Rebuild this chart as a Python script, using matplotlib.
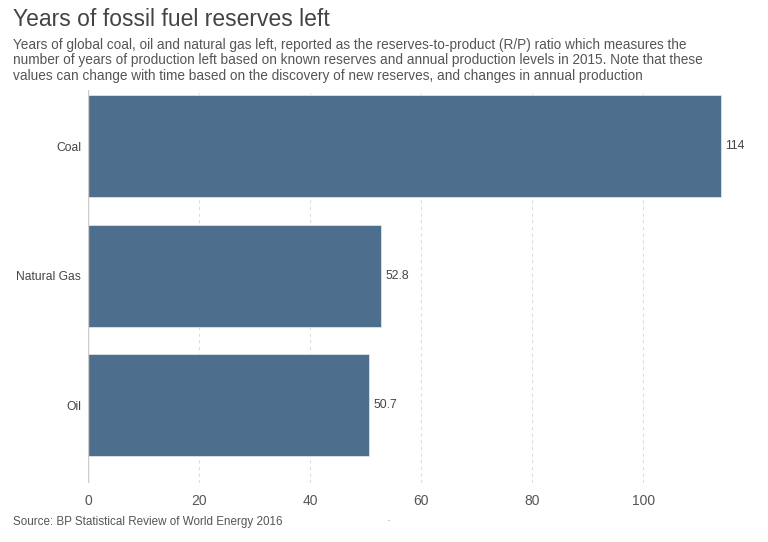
import matplotlib.pyplot as plt

fuels = ['Coal', 'Natural Gas', 'Oil']
years_left = [114, 52.8, 50.7]
value_labels = ['114', '52.8', '50.7']
xticks = [0, 20, 40, 60, 80, 100]

plt.rcParams['font.family'] = ['Liberation Sans', 'DejaVu Sans']

fig = plt.figure(figsize=(7.68, 5.42), dpi=100)
ax = fig.add_axes([88 / 768, 1 - 483 / 542, (722 - 88) / 768, (483 - 90) / 542])

pos = list(range(len(fuels)))
bars = ax.barh(pos, years_left, height=0.79, color='#4d6f8d', edgecolor='#dde4ea', linewidth=0.6, zorder=2)
ax.set_ylim(2.6, -0.435)
ax.set_xlim(0, 114.2)

for rect, lab in zip(bars, value_labels):
    ax.text(rect.get_width() + 0.8, rect.get_y() + rect.get_height() / 2, lab,
            va='center', ha='left', fontsize=8.8, color='#444444')

ax.set_yticks(pos)
ax.set_yticklabels(fuels, fontsize=8.7, color='#444444')
ax.set_xticks(xticks)
ax.set_xticklabels([str(t) for t in xticks], fontsize=10, color='#555555')
ax.tick_params(length=0)
ax.tick_params(axis='y', pad=5)
ax.tick_params(axis='x', pad=8)

for t in xticks[1:]:
    ax.axvline(t, color='#dddddd', linestyle=(0, (3, 3)), linewidth=0.8, zorder=1)
ax.axvline(0, color='#cccccc', linewidth=1, zorder=3)
for s in ax.spines.values():
    s.set_visible(False)

fig.text(13 / 768, 1 - 20 / 542, 'Years of fossil fuel reserves left', fontsize=16.5,
         color='#444444', va='center', ha='left')
subtitle = ('Years of global coal, oil and natural gas left, reported as the reserves-to-product (R/P) ratio which measures the\n'
            'number of years of production left based on known reserves and annual production levels in 2015. Note that these\n'
            'values can change with time based on the discovery of new reserves, and changes in annual production')
fig.text(13 / 768, 1 - 38 / 542, subtitle, fontsize=9.8, color='#555555', va='top', ha='left', linespacing=1.12)
fig.text(13 / 768, 1 - 522 / 542, 'Source: BP Statistical Review of World Energy 2016', fontsize=8.4,
         color='#555555', va='center', ha='left')
fig.text(388 / 768, 1 - 521 / 542, '\u00b7', fontsize=8, color='#777777', va='center', ha='center')

fig.savefig('out.png', dpi=100)
